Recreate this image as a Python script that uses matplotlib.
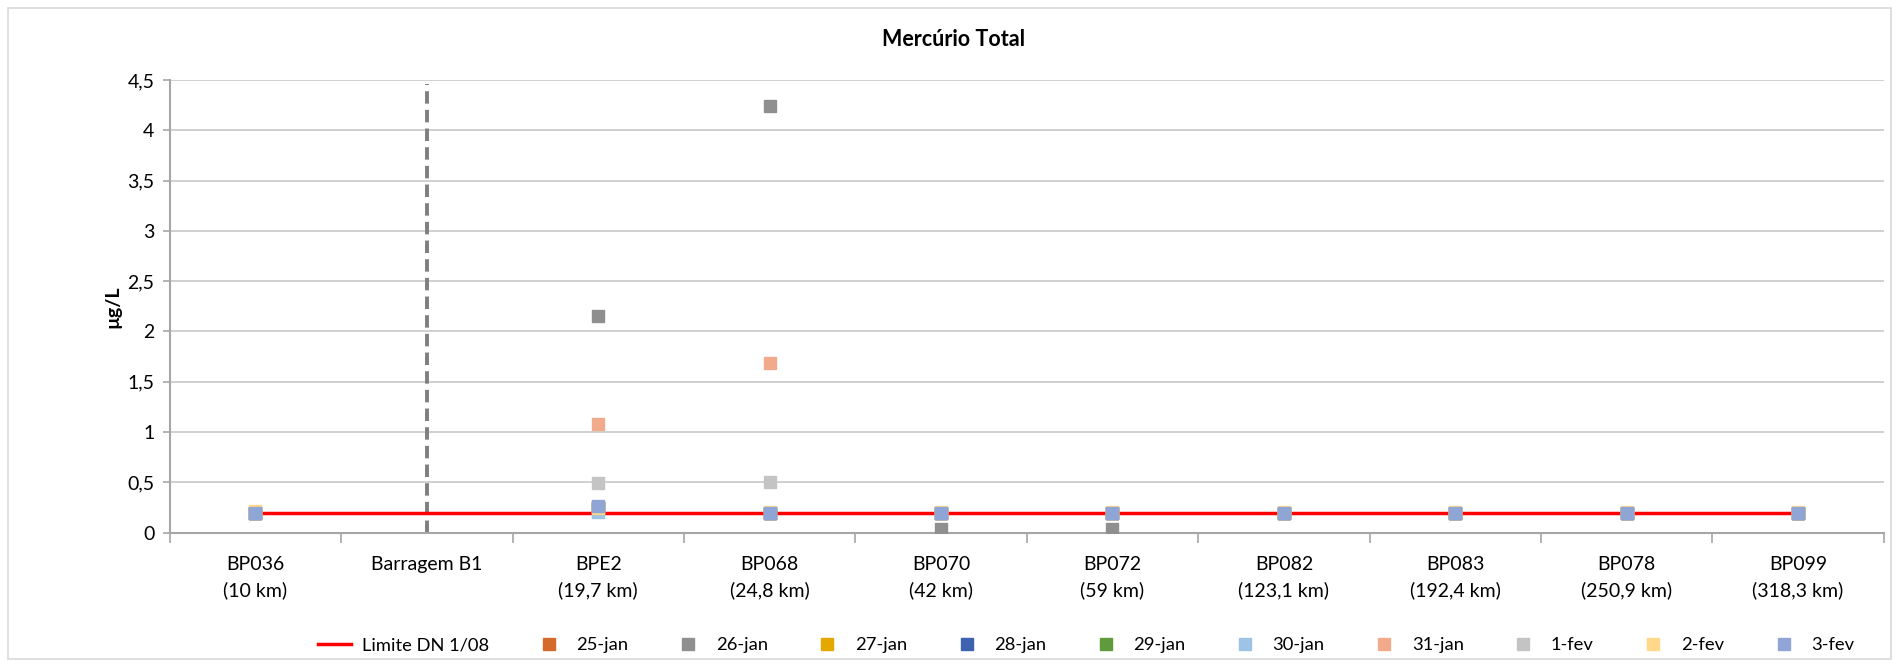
import numpy as np
import matplotlib.pyplot as plt
from matplotlib.patches import Rectangle

plt.rcParams['font.family'] = ['Lato', 'DejaVu Sans']

# categories (sampling stations)
stations = ['BP036\n(10 km)', 'Barragem B1', 'BPE2\n(19,7 km)', 'BP068\n(24,8 km)',
            'BP070\n(42 km)', 'BP072\n(59 km)', 'BP082\n(123,1 km)', 'BP083\n(192,4 km)',
            'BP078\n(250,9 km)', 'BP099\n(318,3 km)']

limite = [0.2, 0.2, 0.2, 0.2, 0.2, 0.2, 0.2, 0.2, 0.2, 0.2]
dam_index = 1
dam_top = 4.46

nan = np.nan
jan25 = [0.2, nan, 0.25, 0.2, 0.2, 0.2, 0.2, 0.2, 0.2, 0.2]
jan26 = [0.2, nan, 2.15, 4.24, 0.04, 0.04, 0.2, 0.2, 0.2, 0.2]
jan27 = [0.2, nan, 0.25, 0.2, 0.2, 0.2, 0.2, 0.2, 0.2, 0.2]
jan28 = [0.2, nan, 0.25, 0.2, 0.2, 0.2, 0.2, 0.2, 0.2, 0.2]
jan29 = [0.2, nan, 0.26, 0.2, 0.2, 0.2, 0.2, 0.2, 0.2, 0.2]
jan30 = [0.2, nan, 0.21, 0.2, 0.2, 0.2, 0.2, 0.2, 0.2, 0.2]
jan31 = [0.2, nan, 1.08, 1.69, 0.2, 0.2, 0.2, 0.2, 0.2, 0.2]
fev1 = [0.2, nan, 0.49, 0.50, 0.2, 0.2, 0.2, 0.2, 0.2, 0.2]
fev2 = [0.215, nan, 0.25, 0.21, 0.21, 0.21, 0.21, 0.21, 0.21, 0.21]
fev3 = [0.2, nan, 0.27, 0.2, 0.2, 0.2, 0.2, 0.2, 0.2, 0.2]

series = [('25-jan', jan25, '#d46a2b'), ('26-jan', jan26, '#8f8f8f'),
          ('27-jan', jan27, '#e5a800'), ('28-jan', jan28, '#3d63b0'),
          ('29-jan', jan29, '#5f9a3d'), ('30-jan', jan30, '#9dc3e6'),
          ('31-jan', jan31, '#f2aa8c'), ('1-fev', fev1, '#c4c4c4'),
          ('2-fev', fev2, '#ffd88a'), ('3-fev', fev3, '#8ea5d6')]

fig = plt.figure(figsize=(18.99, 6.64), dpi=100)
ax = fig.add_axes([0.0894, 0.1977, 0.9026, 0.682])

x = np.arange(len(stations))
ax.plot(x, limite, color='#ff0000', lw=2.5, label='Limite DN 1/08', zorder=3)
for name, vals, col in series:
    ax.plot(x, vals, ls='none', marker='s', ms=8.6, mfc=col, mec=col,
            label=name, zorder=4)

ax.plot([dam_index, dam_index], [0, dam_top], color='#7f7f7f', lw=2.8,
        ls=(0, (3.2, 1.6)), zorder=2)

ax.set_xlim(-0.5, len(stations) - 0.5)
ax.set_ylim(0, 4.5)
yt = np.arange(0, 4.51, 0.5)
ax.set_yticks(yt)
ax.set_yticklabels([('%g' % v).replace('.', ',') for v in yt])
ax.set_xticks(x)
ax.set_xticklabels(stations, linespacing=1.5)
ax.set_xticks(np.arange(-0.5, len(stations)), minor=True)
ax.tick_params(axis='x', which='major', length=0, pad=17, labelsize=14)
ax.tick_params(axis='x', which='minor', length=7, color='#a6a6a6', width=1.2)
ax.tick_params(axis='y', length=5, color='#a6a6a6', width=1.2, pad=6, labelsize=14)
ax.grid(axis='y', color='#c8c8c8', lw=1.2)
ax.set_axisbelow(True)
for s in ['top', 'right']:
    ax.spines[s].set_visible(False)
for s in ['left', 'bottom']:
    ax.spines[s].set_color('#a6a6a6')
    ax.spines[s].set_linewidth(1.5)

ax.set_ylabel('µg/L', fontsize=14, fontweight='bold', labelpad=4)
fig.text(0.502, 0.94, 'Mercúrio Total', fontsize=15.5, fontweight='bold',
         ha='center', va='center')

fig.legend(loc='center', bbox_to_anchor=(0.572, 0.028), ncol=11, frameon=False,
           fontsize=13.2, handlelength=1.8, columnspacing=2.35, handletextpad=0.6)

fig.patches.append(Rectangle((0.004, 0.008), 0.992, 0.98, transform=fig.transFigure,
                             fill=False, ec='#d9d9d9', lw=1.2))

fig.savefig('out.png', dpi=100)
